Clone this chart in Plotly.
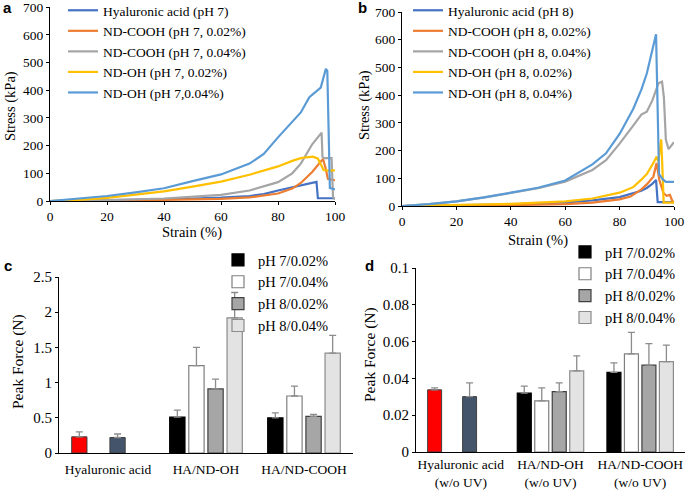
import plotly.graph_objects as go

# ---- panel a: stress-strain, pH 7 ----
a_names = ["Hyaluronic acid (pH 7)", "ND-COOH (pH 7, 0.02%)", "ND-COOH (pH 7, 0.04%)",
           "ND-OH (pH 7, 0.02%)", "ND-OH (pH 7,0.04%)"]
a_ha_x = [0, 10, 20, 30, 40, 50, 60, 70, 75, 80, 85, 90, 93.5, 94, 100]
a_ha_y = [0, 1, 2, 4, 6, 9, 12, 18, 25, 38, 50, 60, 69, 10, 10]
a_c02_x = [0, 20, 40, 60, 70, 80, 85, 88, 90, 92, 94, 95.8, 96.8, 97.5, 100]
a_c02_y = [0, 1, 4, 8, 13, 27, 45, 65, 85, 105, 130, 152, 115, 80, 75]
a_c04_x = [0, 20, 40, 60, 70, 80, 85, 88, 90, 92, 95.3, 95.6, 96, 98.8, 99.3, 100]
a_c04_y = [0, 3, 9, 22, 38, 68, 100, 135, 170, 205, 247, 160, 155, 155, 15, 5]
a_o02_x = [0, 10, 20, 30, 40, 50, 60, 70, 80, 85, 88, 90, 92.3, 94, 95, 96, 98, 100]
a_o02_y = [0, 4, 11, 22, 35, 52, 70, 95, 125, 145, 155, 158, 160, 153, 135, 112, 110, 111]
a_o04_x = [0, 10, 20, 30, 40, 50, 60, 70, 75, 80, 84, 88, 91, 93.5, 95, 96.8, 97.3, 98.2, 100]
a_o04_y = [0, 8, 18, 31, 46, 72, 96, 135, 170, 230, 275, 320, 375, 395, 410, 478, 470, 47, 42]

# ---- panel b: stress-strain, pH 8 ----
b_names = ["Hyaluronic acid (pH 8)", "ND-COOH (pH 8, 0.02%)", "ND-COOH (pH 8, 0.04%)",
           "ND-OH (pH 8, 0.02%)", "ND-OH (pH 8, 0.04%)"]
b_ha_x = [0, 20, 40, 60, 70, 80, 85, 88, 90, 92, 93.4, 94, 100]
b_ha_y = [0, 2, 6, 13, 20, 32, 45, 55, 65, 80, 94, 14, 14]
b_c02_x = [0, 20, 40, 60, 70, 80, 84, 88, 90, 92.4, 93.6, 94.6, 96.1, 97.3, 98.5, 99.3, 100]
b_c02_y = [0, 1, 3, 7, 12, 24, 34, 60, 78, 106, 155, 94, 47, 37, 40, 20, 12]
b_c04_x = [0, 10, 20, 30, 40, 50, 60, 70, 75, 80, 85, 88, 90, 92, 94.3, 95.6, 96.3, 97, 98, 100]
b_c04_y = [0, 7, 17, 30, 47, 64, 88, 130, 165, 225, 290, 330, 340, 380, 443, 449, 390, 240, 205, 230]
b_o02_x = [0, 20, 40, 60, 70, 80, 85, 88, 90, 92.4, 93.6, 94.2, 95.3, 95.8, 96.2, 100]
b_o02_y = [0, 3, 8, 17, 27, 48, 68, 95, 115, 155, 178, 160, 240, 120, 12, 12]
b_o04_x = [0, 10, 20, 30, 40, 50, 60, 70, 75, 80, 85, 88, 90, 92, 93.4, 94.5, 96, 97, 100]
b_o04_y = [0, 7, 17, 31, 48, 66, 92, 150, 190, 260, 350, 420, 478, 560, 620, 115, 95, 87, 87]

line_colors = ["#4472C4", "#ED7D31", "#A5A5A5", "#FFC000", "#5B9BD5"]

# ---- panel c / d: peak force bars ----
groups = ["pH 7/0.02%", "pH 7/0.04%", "pH 8/0.02%", "pH 8/0.04%"]
c_cats = ["HA/ND-OH", "HA/ND-COOH"]
c_vals = [[0.51, 0.50], [1.24, 0.81], [0.91, 0.52], [1.92, 1.42]]
c_errs = [[0.10, 0.07], [0.26, 0.14], [0.14, 0.03], [0.36, 0.25]]
c_ha_vals = [0.23, 0.22]  # pH 7/0.02%, pH 8/0.02%
c_ha_errs = [0.07, 0.05]

d_cats = ["HA/ND-OH<br>(w/o UV)", "HA/ND-COOH<br>(w/o UV)"]
d_vals = [[0.032, 0.0433], [0.0278, 0.0533], [0.0328, 0.0472], [0.0441, 0.0491]]
d_errs = [[0.0038, 0.0051], [0.0071, 0.0117], [0.0048, 0.0117], [0.0081, 0.009]]
d_ha_vals = [0.0338, 0.0301]
d_ha_errs = [0.0011, 0.0075]

bar_fill = ["#000000", "#FFFFFF", "#A6A6A6", "#E3E3E3"]
bar_edge = ["#000000", "#7F7F7F", "#404040", "#8C8C8C"]
ha_fill = ["#FF0000", "#44546A"]

SERIF = "Liberation Serif, Times New Roman, serif"

fig = go.Figure()

for xs, ys, name, col in zip([a_ha_x, a_c02_x, a_c04_x, a_o02_x, a_o04_x],
                             [a_ha_y, a_c02_y, a_c04_y, a_o02_y, a_o04_y],
                             a_names, line_colors):
    fig.add_trace(go.Scatter(x=xs, y=ys, name=name, mode="lines",
                             line=dict(color=col, width=2.2),
                             xaxis="x", yaxis="y", legend="legend"))

for xs, ys, name, col in zip([b_ha_x, b_c02_x, b_c04_x, b_o02_x, b_o04_x],
                             [b_ha_y, b_c02_y, b_c04_y, b_o02_y, b_o04_y],
                             b_names, line_colors):
    fig.add_trace(go.Scatter(x=xs, y=ys, name=name, mode="lines",
                             line=dict(color=col, width=2.2),
                             xaxis="x2", yaxis="y2", legend="legend2"))


def add_bars(cats, ha_cat, vals, errs, ha_vals, ha_errs, xa, ya, leg):
    for i, g in enumerate(groups):
        fig.add_trace(go.Bar(
            x=cats, y=vals[i], name=g, offsetgroup=str(i),
            marker=dict(color=bar_fill[i], line=dict(color=bar_edge[i], width=1.2)),
            error_y=dict(type="data", array=errs[i], arrayminus=[0] * len(cats),
                         symmetric=False, color="#8C8C8C", thickness=1.3, width=3.5),
            xaxis=xa, yaxis=ya, legend=leg))
    for j, slot in enumerate([0, 2]):
        fig.add_trace(go.Bar(
            x=[ha_cat], y=[ha_vals[j]], offsetgroup=str(slot), showlegend=False,
            marker=dict(color=ha_fill[j], line=dict(color="#404040", width=1)),
            error_y=dict(type="data", array=[ha_errs[j]], arrayminus=[0],
                         symmetric=False, color="#8C8C8C", thickness=1.3, width=3.5),
            xaxis=xa, yaxis=ya))


add_bars(c_cats, "Hyaluronic acid", c_vals, c_errs, c_ha_vals, c_ha_errs, "x3", "y3", "legend3")
add_bars(d_cats, "Hyaluronic acid<br>(w/o UV)", d_vals, d_errs, d_ha_vals, d_ha_errs, "x4", "y4", "legend4")

W, H = 685, 493

def px_x(p):
    return p / W

def px_y(p):
    return 1 - p / H

ax_common = dict(showline=True, linecolor="black", linewidth=1, showgrid=False,
                 zeroline=False, ticks="outside", ticklen=3, tickcolor="black",
                 automargin=False,
                 tickfont=dict(family=SERIF, size=13.5, color="black"))

fig.update_layout(
    width=W, height=H, margin=dict(l=0, r=0, t=0, b=0, autoexpand=False),
    plot_bgcolor="white", paper_bgcolor="white",
    font=dict(family=SERIF, color="black"),
    barmode="group", bargap=0.22, bargroupgap=0.2,
    xaxis=dict(ax_common, domain=[px_x(50), px_x(335)], range=[0, 100], dtick=20, anchor="y"),
    yaxis=dict(ax_common, domain=[px_y(201), px_y(7.3)], range=[0, 700], dtick=100, anchor="x"),
    xaxis2=dict(ax_common, domain=[px_x(402), px_x(674)], range=[0, 100], dtick=20, anchor="y2"),
    yaxis2=dict(ax_common, domain=[px_y(206), px_y(12)], range=[0, 700], dtick=100, anchor="x2"),
    xaxis3=dict(ax_common, domain=[px_x(59), px_x(353)], anchor="y3", ticks="",
                ticklabelstandoff=4,
                categoryorder="array", categoryarray=["Hyaluronic acid"] + c_cats,
                tickfont=dict(family=SERIF, size=13.5, color="black")),
    yaxis3=dict(ax_common, domain=[px_y(453), px_y(277)], range=[0, 2.5], dtick=0.5,
                anchor="x3", tickfont=dict(family=SERIF, size=15, color="black")),
    xaxis4=dict(ax_common, domain=[px_x(416), px_x(685)], anchor="y4", ticks="",
                categoryorder="array", categoryarray=["Hyaluronic acid<br>(w/o UV)"] + d_cats,
                tickfont=dict(family=SERIF, size=13.5, color="black")),
    yaxis4=dict(ax_common, domain=[px_y(452), px_y(268)], range=[0, 0.1], dtick=0.02,
                anchor="x4", tickfont=dict(family=SERIF, size=15, color="black")),
    legend=dict(x=px_x(63), y=px_y(-5), xanchor="left", yanchor="top",
                bgcolor="rgba(0,0,0,0)", font=dict(size=13.5), tracegroupgap=0),
    legend2=dict(x=px_x(408), y=px_y(-5), xanchor="left", yanchor="top",
                 bgcolor="rgba(0,0,0,0)", font=dict(size=13.5), tracegroupgap=0),
    legend3=dict(x=px_x(218), y=px_y(244), xanchor="left", yanchor="top",
                 bgcolor="rgba(0,0,0,0)", font=dict(size=14.5), tracegroupgap=0),
    legend4=dict(x=px_x(565), y=px_y(236), xanchor="left", yanchor="top",
                 bgcolor="rgba(0,0,0,0)", font=dict(size=14.5), tracegroupgap=0),
)

# axis titles
for text, x, y, ang, size in [("Strain (%)", 192, 232, 0, 14.5),
                              ("Stress (kPa)", 10, 106, -90, 14.5),
                              ("Strain (%)", 538, 240, 0, 14.5),
                              ("Stress (kPa)", 365, 105, -90, 14.5),
                              ("Peak Force (N)", 18, 362, -90, 15.5),
                              ("Peak Force (N)", 370, 355, -90, 15.5)]:
    fig.add_annotation(text=text, x=px_x(x), y=px_y(y), xref="paper", yref="paper",
                       showarrow=False, xanchor="center", yanchor="middle", textangle=ang,
                       font=dict(family=SERIF, size=size, color="black"))

for label, x, y in [("a", 8, 7), ("b", 362, 7), ("c", 8, 265), ("d", 369, 265)]:
    fig.add_annotation(text="<b>%s</b>" % label, x=px_x(x), y=px_y(y), xref="paper", yref="paper",
                       showarrow=False, xanchor="center", yanchor="middle",
                       font=dict(family="Liberation Sans, Arial, sans-serif", size=15, color="black"))

# page body has a default 8px margin; drop it so the figure sits at the window corner
fig.write_html("out.html", config={"displayModeBar": False},
               post_script="document.body.style.margin='0px';")
